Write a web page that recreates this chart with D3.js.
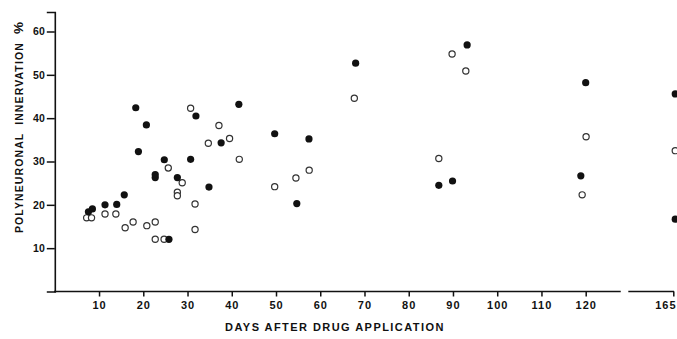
<!DOCTYPE html>
<html><head><meta charset="utf-8">
<script src="https://cdn.jsdelivr.net/npm/d3@7"></script>
<style>
html,body{margin:0;padding:0;background:#fff;}
svg{display:block;}
text{font-family:"Liberation Sans",Arial,sans-serif;font-weight:bold;fill:#111;}
</style></head>
<body>
<script>
// ---- data ----
const filledDays = [7.6,8.5,11.35,14.0,15.7,18.3,18.9,20.7,22.7,22.7,24.75,25.8,27.7,30.7,31.9,34.85,37.6,41.6,49.7,54.7,57.45,68.0,86.8,89.9,93.2,118.9,120.0,166,166];
const filledPct  = [18.4,19.05,20.0,20.1,22.3,42.4,32.3,38.45,26.3,27.0,30.4,12.05,26.3,30.5,40.5,24.1,34.3,43.2,36.4,20.3,35.2,52.7,24.5,25.5,56.9,26.7,48.2,45.6,16.7];
const openDays   = [7.2,8.3,11.35,13.8,15.9,17.7,20.8,22.7,22.7,24.7,25.65,27.7,27.7,28.8,30.7,31.7,31.7,34.7,37.1,39.5,41.7,49.7,54.5,57.5,67.7,86.8,89.8,92.9,119.2,120.2,166];
const openPct    = [17.0,17.0,17.9,17.9,14.7,16.05,15.2,16.05,12.05,12.05,28.5,22.9,22.1,25.1,42.3,20.2,14.3,34.2,38.3,35.3,30.5,24.2,26.2,28.0,44.6,30.7,54.8,50.9,22.3,35.7,32.5];
const xTicks = [10,20,30,40,50,60,70,80,90,100,110,120,165];
const yTicks = [10,20,30,40,50,60];
const xTitle = "DAYS AFTER DRUG APPLICATION";
const yTitleMain = "POLYNEURONAL  INNERVATION  ";
const yTitleUnit = "%";

// ---- layout ----
const W = 677, H = 339;
const svg = d3.select("body").append("svg").attr("width", W).attr("height", H);

const x = d3.scaleLinear().domain([0, 120, 165]).range([54.8, 585.7, 673.3]);
const y = d3.scaleLinear().domain([0, 64.5]).range([291.5, 12]);

// x axis
const gx = svg.append("g").attr("transform", `translate(0,${y(0)})`)
  .call(d3.axisBottom(x).tickValues(xTicks).tickSize(5).tickPadding(5).tickFormat(d3.format("d")));
gx.select(".domain").remove();
gx.selectAll(".tick line").attr("stroke", "#111").attr("stroke-width", 1.5);
gx.selectAll(".tick text").attr("font-size", 11).attr("letter-spacing", 1);
gx.selectAll(".tick").filter(d => d === 165).select("text")
  .attr("text-anchor", "end").attr("dx", "0.25em");

// broken baseline
const segs = [[0, 138], [142.3, 165.4]];
svg.selectAll("line.base").data(segs).join("line")
  .attr("x1", d => x(d[0]) - 0.8).attr("x2", d => x(d[1]))
  .attr("y1", y(0)).attr("y2", y(0))
  .attr("stroke", "#111").attr("stroke-width", 1.6);

// y axis
const gy = svg.append("g").attr("transform", `translate(${x(0)},0)`)
  .call(d3.axisLeft(y).tickValues(yTicks).tickSize(8).tickPadding(2));
gy.select(".domain").attr("stroke", "#111").attr("stroke-width", 1.6);
gy.selectAll(".tick line").attr("stroke", "#111").attr("stroke-width", 1.5);
gy.selectAll(".tick text").attr("font-size", 10.5);

// titles
svg.append("text").attr("x", 335).attr("y", 331).attr("text-anchor", "middle")
  .attr("font-size", 11).attr("letter-spacing", 1.45).text(xTitle);
const yt = svg.append("text").attr("transform", "translate(23,127) rotate(-90)").attr("text-anchor", "middle")
  .attr("font-size", 10.5).attr("letter-spacing", 1.1).style("white-space", "pre");
yt.append("tspan").text(yTitleMain);
yt.append("tspan").attr("font-size", 13.5).text(yTitleUnit);

// points: open first, then filled on top
const openData = openDays.map((d, i) => ({d, v: openPct[i]}));
const filledData = filledDays.map((d, i) => ({d, v: filledPct[i]}));

svg.append("g").selectAll("circle").data(openData).join("circle")
  .attr("cx", p => x(p.d)).attr("cy", p => y(p.v)).attr("r", 3.1)
  .attr("fill", "#fff").attr("stroke", "#333").attr("stroke-width", 1.2);

svg.append("g").selectAll("circle").data(filledData).join("circle")
  .attr("cx", p => x(p.d)).attr("cy", p => y(p.v)).attr("r", 3.6)
  .attr("fill", "#111");
</script>
</body></html>
